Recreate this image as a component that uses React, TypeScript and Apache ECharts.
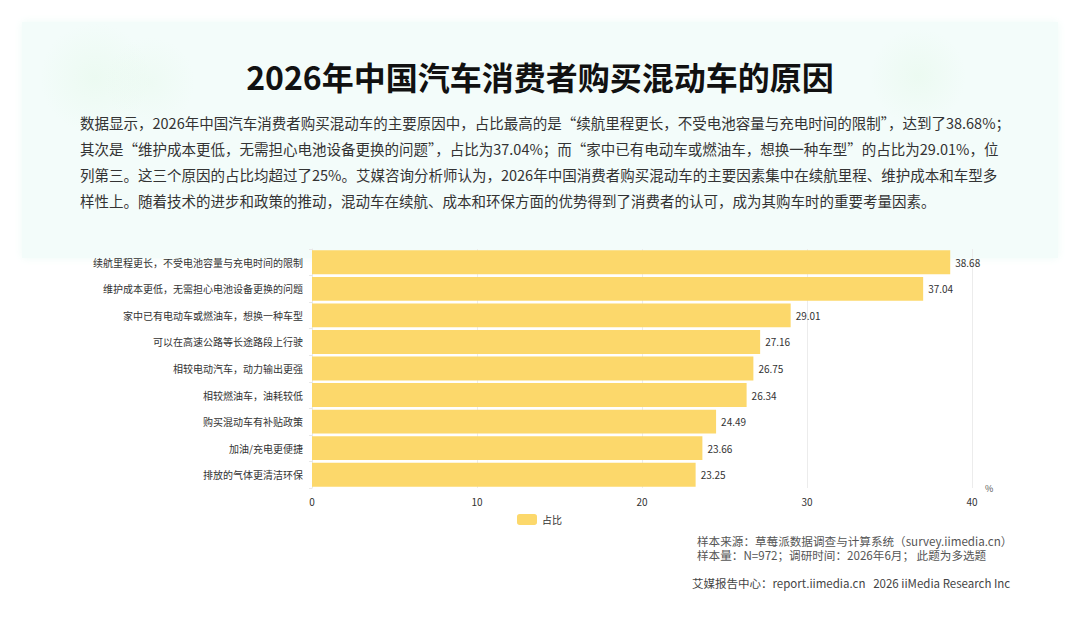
import React, { useEffect, useRef } from "react";
import * as echarts from "echarts";

const categories = [
  "续航里程更长，不受电池容量与充电时间的限制",
  "维护成本更低，无需担心电池设备更换的问题",
  "家中已有电动车或燃油车，想换一种车型",
  "可以在高速公路等长途路段上行驶",
  "相较电动汽车，动力输出更强",
  "相较燃油车，油耗较低",
  "购买混动车有补贴政策",
  "加油/充电更便捷",
  "排放的气体更清洁环保",
];
const values = [38.68, 37.04, 29.01, 27.16, 26.75, 26.34, 24.49, 23.66, 23.25];
const seriesName = "占比";
const titleText = "2026年中国汽车消费者购买混动车的原因";
const paragraphLines = [
  "数据显示，2026年中国汽车消费者购买混动车的主要原因中，占比最高的是“续航里程更长，不受电池容量与充电时间的限制”，达到了38.68%；",
  "其次是“维护成本更低，无需担心电池设备更换的问题”，占比为37.04%；而“家中已有电动车或燃油车，想换一种车型”的占比为29.01%，位",
  "列第三。这三个原因的占比均超过了25%。艾媒咨询分析师认为，2026年中国消费者购买混动车的主要因素集中在续航里程、维护成本和车型多",
  "样性上。随着技术的进步和政策的推动，混动车在续航、成本和环保方面的优势得到了消费者的认可，成为其购车时的重要考量因素。",
];
const footerLines = [
  "样本来源：草莓派数据调查与计算系统（survey.iimedia.cn）",
  "样本量：N=972；调研时间：2026年6月； 此题为多选题",
];
const footerSite = "艾媒报告中心：report.iimedia.cn   2026 iiMedia Research Inc";

const FONT = "'Noto Sans CJK SC', 'Noto Sans', sans-serif";

export default function App() {
  const ref = useRef<HTMLDivElement>(null);
  useEffect(() => {
    if (!ref.current) return;
    const chart = echarts.init(ref.current, undefined, { renderer: "svg" });
    const blob = (cx: number, cy: number, r: number, a: number) => ({
      type: "circle",
      shape: { cx, cy, r },
      silent: true,
      z: -9,
      style: {
        fill: new echarts.graphic.RadialGradient(0.5, 0.5, 0.5, [
          { offset: 0, color: `rgba(220,246,222,${a})` },
          { offset: 1, color: "rgba(220,246,222,0)" },
        ]),
      },
    });
    const option: any = {
      animation: false,
      backgroundColor: "#ffffff",
      textStyle: { fontFamily: FONT },
      grid: { left: 312, right: 108, top: 249, bottom: 135, containLabel: false },
      legend: {
        data: [seriesName],
        left: 512,
        top: 509,
        itemWidth: 20,
        itemHeight: 11,
        itemGap: 6,
        textStyle: { fontSize: 10, color: "#333", fontFamily: FONT },
      },
      xAxis: {
        type: "value",
        min: 0,
        max: 40,
        interval: 10,
        name: "%",
        nameLocation: "end",
        nameGap: 13,
        nameTextStyle: { fontSize: 9, color: "#555", verticalAlign: "middle", padding: [0, 0, 0, 0] },
        axisLine: { show: false },
        axisTick: { show: false },
        axisLabel: { fontSize: 10, color: "#333", margin: 8 },
        splitLine: { show: true, lineStyle: { color: "#ececec", width: 1 } },
      },
      yAxis: {
        type: "category",
        inverse: true,
        data: categories,
        axisLine: { show: true, lineStyle: { color: "#e8e8e8" } },
        axisTick: { show: true, length: 3, lineStyle: { color: "#e8e8e8" } },
        axisLabel: { fontSize: 10, color: "#333", margin: 9 },
      },
      series: [
        {
          name: seriesName,
          type: "bar",
          data: values,
          barCategoryGap: "10%",
          itemStyle: { color: "#fcd86b" },
          label: {
            show: true,
            position: "right",
            distance: 5,
            fontSize: 10,
            color: "#333",
            formatter: (p: any) => p.value.toFixed(2),
          },
        },
      ],
      graphic: [
        {
          type: "rect",
          shape: { x: 22, y: 22, width: 1036, height: 236 },
          silent: true,
          z: -10,
          style: { fill: "#f3fcfa", shadowBlur: 8, shadowColor: "rgba(236,250,246,0.9)" },
        },
        blob(95, 78, 55, 0.3),
        blob(150, 82, 45, 0.22),
        blob(918, 76, 48, 0.3),
        {
          type: "text",
          x: 540,
          y: 76,
          style: {
            text: titleText,
            fontSize: 32,
            fontWeight: "bold",
            fontFamily: FONT,
            fill: "#111",
            align: "center",
            verticalAlign: "middle",
          },
        },
        ...paragraphLines.map((t, i) => ({
          type: "text",
          x: 80,
          y: 122 + i * 26,
          style: {
            text: t,
            fontSize: 14.5,
            fontFamily: FONT,
            fill: "#333",
            align: "left",
            verticalAlign: "middle",
          },
        })),
        ...footerLines.map((t, i) => ({
          type: "text",
          x: 697,
          y: 541 + i * 14,
          style: {
            text: t,
            fontSize: 11.6,
            fontFamily: FONT,
            fill: "#555",
            align: "left",
            verticalAlign: "middle",
          },
        })),
        {
          type: "text",
          x: 692,
          y: 583,
          style: {
            text: footerSite,
            fontSize: 11.5,
            fontFamily: FONT,
            fill: "#444",
            align: "left",
            verticalAlign: "middle",
          },
        },
      ],
    };
    chart.setOption(option);
    return () => chart.dispose();
  }, []);
  return (
    <div
      ref={ref}
      style={{ position: "fixed", left: 0, top: 0, width: 1080, height: 623 }}
    />
  );
}
